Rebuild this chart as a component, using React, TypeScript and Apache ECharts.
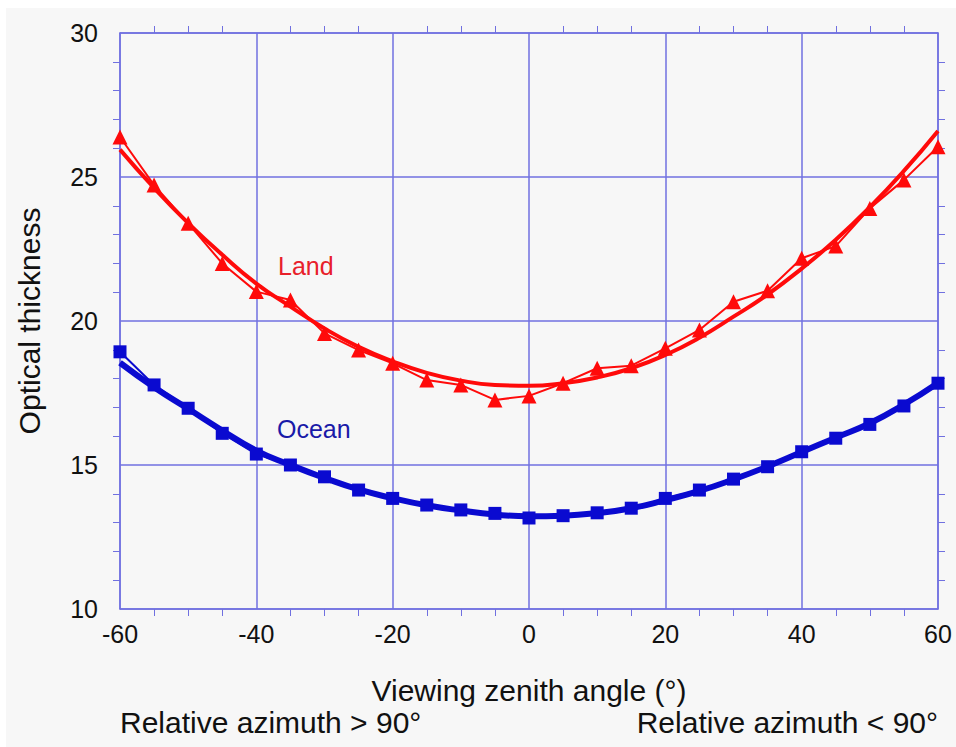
import React, { useEffect, useRef } from "react";
import * as echarts from "echarts";

const angles = [-60, -55, -50, -45, -40, -35, -30, -25, -20, -15, -10, -5, 0, 5, 10, 15, 20, 25, 30, 35, 40, 45, 50, 55, 60];

const landObs = [26.39, 24.72, 23.39, 22.0, 21.02, 20.73, 19.57, 18.99, 18.53, 17.95, 17.78, 17.26, 17.4, 17.84, 18.36, 18.45, 19.05, 19.69, 20.67, 21.05, 22.18, 22.6, 23.91, 24.9, 26.05];
const landFit = [25.95, 24.62, 23.4, 22.3, 21.3, 20.5, 19.74, 19.1, 18.6, 18.2, 17.93, 17.78, 17.75, 17.84, 18.04, 18.36, 18.82, 19.42, 20.15, 20.92, 21.82, 22.82, 23.95, 25.21, 26.6];

const oceanObs = [18.93, 17.78, 16.97, 16.1, 15.38, 15.0, 14.59, 14.13, 13.84, 13.61, 13.44, 13.32, 13.16, 13.24, 13.34, 13.5, 13.84, 14.13, 14.51, 14.94, 15.46, 15.93, 16.41, 17.05, 17.84];
const oceanFit = [18.55, 17.7, 16.95, 16.2, 15.5, 15.0, 14.55, 14.15, 13.85, 13.6, 13.42, 13.28, 13.22, 13.24, 13.33, 13.5, 13.78, 14.1, 14.5, 14.95, 15.45, 15.95, 16.45, 17.1, 17.85];

const yTicks = [10, 15, 20, 25, 30];
const xTicks = [-60, -40, -20, 0, 20, 40, 60];

const FONT = '"Liberation Sans", Arial, Helvetica, sans-serif';
const GRID = "#7070e0";
const RED = "#ff0a0a";
const BLUE = "#0a0ad0";

const pairs = (ys: number[]) => angles.map((a, i) => [a, ys[i]]);

export default function App() {
  const ref = useRef<HTMLDivElement>(null);
  useEffect(() => {
    document.body.style.margin = "0";
    if (!ref.current) return;
    const chart = echarts.init(ref.current, null, { renderer: "svg" });
    const axisCommon = {
      axisLine: { show: true, onZero: false, lineStyle: { color: GRID, width: 1.5 } },
      axisTick: { show: false },
    };
    const xMinor = { show: true, splitNumber: 4, length: 7, lineStyle: { color: GRID, width: 1 } };
    const yMinor = { show: true, splitNumber: 5, length: 7, lineStyle: { color: GRID, width: 1 } };
    chart.setOption({
      animation: false,
      backgroundColor: "#ffffff",
      grid: { left: 120, right: 18, top: 33, bottom: 138, containLabel: false },
      xAxis: [
        {
          type: "value",
          min: xTicks[0],
          max: xTicks[xTicks.length - 1],
          interval: 20,
          position: "bottom",
          ...axisCommon,
          minorTick: xMinor,
          splitLine: { show: true, lineStyle: { color: GRID, width: 1.5 } },
          axisLabel: { color: "#111", fontSize: 25, fontFamily: FONT, margin: 12 },
          name: "Viewing zenith angle (°)",
          nameLocation: "middle",
          nameGap: 66,
          nameTextStyle: { color: "#111", fontSize: 30, fontFamily: FONT },
        },
        {
          type: "value",
          min: xTicks[0],
          max: xTicks[xTicks.length - 1],
          interval: 20,
          position: "top",
          ...axisCommon,
          minorTick: xMinor,
          splitLine: { show: false },
          axisLabel: { show: false },
        },
      ],
      yAxis: [
        {
          type: "value",
          min: yTicks[0],
          max: yTicks[yTicks.length - 1],
          interval: 5,
          position: "left",
          ...axisCommon,
          minorTick: yMinor,
          splitLine: { show: true, lineStyle: { color: GRID, width: 1.5 } },
          axisLabel: { color: "#111", fontSize: 25, fontFamily: FONT, margin: 22 },
          name: "Optical thickness",
          nameLocation: "middle",
          nameGap: 76,
          nameTextStyle: { color: "#111", fontSize: 30, fontFamily: FONT },
        },
        {
          type: "value",
          min: yTicks[0],
          max: yTicks[yTicks.length - 1],
          interval: 5,
          position: "right",
          ...axisCommon,
          minorTick: yMinor,
          splitLine: { show: false },
          axisLabel: { show: false },
        },
      ],
      series: [
        {
          name: "Land fit",
          type: "line",
          smooth: true,
          data: pairs(landFit),
          showSymbol: false,
          symbol: "none",
          lineStyle: { color: RED, width: 4 },
          z: 3,
        },
        {
          name: "Land",
          type: "line",
          data: pairs(landObs),
          symbol: "triangle",
          symbolSize: 15,
          itemStyle: { color: RED },
          lineStyle: { color: RED, width: 2 },
          z: 4,
        },
        {
          name: "Ocean fit",
          type: "line",
          smooth: true,
          data: pairs(oceanFit),
          showSymbol: false,
          symbol: "none",
          lineStyle: { color: BLUE, width: 6 },
          z: 3,
        },
        {
          name: "Ocean",
          type: "line",
          data: pairs(oceanObs),
          symbol: "rect",
          symbolSize: 13,
          itemStyle: { color: BLUE },
          lineStyle: { color: BLUE, width: 2 },
          z: 4,
        },
      ],
      graphic: [
        {
          type: "rect",
          silent: true,
          z: -100,
          shape: { x: 6, y: 8, width: 950, height: 739 },
          style: { fill: "#f7f7f7" },
        },
        {
          type: "text",
          left: 278,
          top: 253,
          style: { text: "Land", fill: "#e8202a", fontSize: 25, fontFamily: FONT },
        },
        {
          type: "text",
          left: 277,
          top: 416,
          style: { text: "Ocean", fill: "#1a1aa8", fontSize: 25, fontFamily: FONT },
        },
        {
          type: "text",
          left: 120,
          top: 707,
          style: { text: "Relative azimuth > 90°", fill: "#111", fontSize: 30, fontFamily: FONT },
        },
        {
          type: "text",
          right: 18,
          top: 707,
          style: { text: "Relative azimuth < 90°", fill: "#111", fontSize: 30, fontFamily: FONT },
        },
      ],
    });
    return () => chart.dispose();
  }, []);
  return <div ref={ref} style={{ width: 956, height: 747 }} />;
}
